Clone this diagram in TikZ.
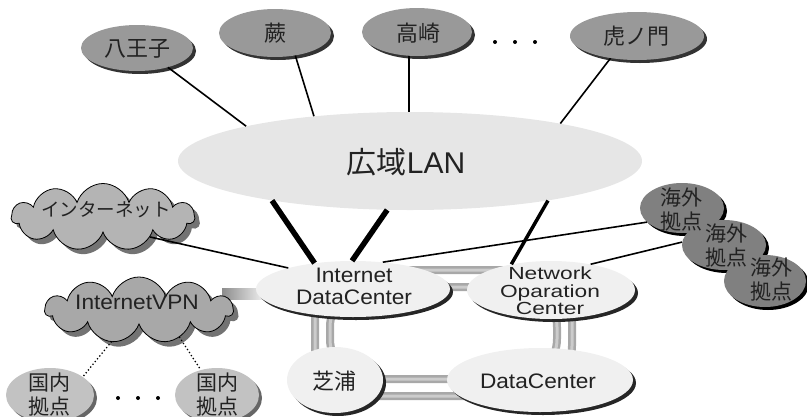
\documentclass[tikz,border=0pt]{standalone}
\usepackage{fontspec}
\setmainfont{Liberation Sans}
\newfontfamily\jp{Noto Sans CJK JP}
\newfontfamily\latw[FakeStretch=1.08]{Liberation Sans}
\newfontfamily\latn[FakeStretch=1.3]{Liberation Sans}
\usetikzlibrary{shapes.geometric,shapes.symbols,shadows,backgrounds}

\definecolor{sitegray}{HTML}{999999}
\definecolor{lanfill}{HTML}{E6E6E6}
\definecolor{hubfill}{HTML}{F0F0F0}
\definecolor{ovsfill}{HTML}{808080}
\definecolor{domfill}{HTML}{C2C2C2}
\definecolor{netfill}{HTML}{B4B4B4}
\definecolor{vpnfill}{HTML}{A8A8A8}
\definecolor{txtcol}{HTML}{222222}

\begin{document}
\begin{tikzpicture}[x=1pt,y=-1pt,
  lbl/.style={text=txtcol, inner sep=0pt, align=center},
  topsite/.style={ellipse, inner sep=0pt, fill=sitegray,
    drop shadow={shadow xshift=3pt, shadow yshift=-3pt, fill=black!80, opacity=1}},
  hub/.style={ellipse, inner sep=0pt, fill=hubfill,
    drop shadow={shadow xshift=3pt, shadow yshift=-3pt, fill=black!85, opacity=1}},
  oversea/.style={ellipse, inner sep=0pt, fill=ovsfill,
    drop shadow={shadow xshift=3pt, shadow yshift=-3pt, fill=black, opacity=1}},
  domestic/.style={ellipse, inner sep=0pt, fill=domfill,
    drop shadow={shadow xshift=3pt, shadow yshift=-3pt, fill=black!60, opacity=1}},
  netcloud/.style={cloud, cloud puffs=11, cloud puff arc=145, cloud ignores aspect,
    inner sep=0pt, draw=black, line width=0.8pt,
    drop shadow={shadow xshift=5pt, shadow yshift=-5pt, fill=black!55, opacity=1}},
  wire/.style={line width=1.6pt},
  trunk/.style={line width=5.5pt},
  midwire/.style={line width=3.5pt},
  dotwire/.style={line width=1.8pt, dash pattern=on 0pt off 3.6pt, line cap=round},
  tube/.style={line width=8pt, draw=gray!68},
  tubelight/.style={line width=3pt, draw=gray!40},
  dot/.style={circle, fill=black, inner sep=0pt, minimum size=4pt}]

\useasboundingbox (0,0) rectangle (807,416);

% wide-area LAN
\node[ellipse, fill=lanfill, inner sep=0pt, minimum width=464pt, minimum height=98pt] (lan) at (410,161) {};
\node[lbl, font=\fontsize{30}{30}\selectfont] at (406,162) {{\jp 広域}LAN};

% branch sites on top
\node[topsite, minimum width=112pt, minimum height=46pt] (hachi) at (137,48) {};
\node[topsite, minimum width=112pt, minimum height=48pt] (warabi) at (275,33) {};
\node[topsite, minimum width=110pt, minimum height=48pt] (takasaki) at (417,32) {};
\node[topsite, minimum width=134pt, minimum height=48pt] (tora) at (637,36) {};
\node[lbl, font=\jp\fontsize{22}{22}\selectfont] at (137,49) {八王子};
\node[lbl, font=\jp\fontsize{22}{22}\selectfont] at (275,33) {蕨};
\node[lbl, font=\jp\fontsize{22}{22}\selectfont] at (418,33) {高崎};
\node[lbl, font=\jp\fontsize{22}{22}\selectfont] at (636,36) {虎ノ門};
\node[dot] (td1) at (495,42) {};
\node[dot] (td2) at (515,42) {};
\node[dot] (td3) at (535,42) {};

% data centers
\node[hub, minimum width=194pt, minimum height=56pt] (idc) at (353,289) {};
\node[hub, minimum width=168pt, minimum height=58pt] (noc) at (551,290) {};
\node[hub, minimum width=96pt, minimum height=66pt] (shiba) at (335,380) {};
\node[hub, minimum width=186pt, minimum height=64pt] (dc) at (540,380) {};
\node[lbl, font=\latw\fontsize{21}{22}\selectfont] at (354,286) {Internet\\DataCenter};
\node[lbl, font=\latn\fontsize{17.5}{17.5}\selectfont] at (550,291) {Network\\Oparation\\Center};
\node[lbl, font=\jp\fontsize{22}{22}\selectfont] at (334,381) {芝浦};
\node[lbl, font=\latw\fontsize{21}{22}\selectfont] at (538,381) {DataCenter};

% clouds
\node[netcloud, fill=netfill, minimum width=183pt, minimum height=67pt] (inet) at (103,217) {};
\node[lbl, font=\jp\fontsize{18.5}{18.5}\selectfont] at (106,210) {インターネット};
\node[netcloud, fill=vpnfill, minimum width=188pt, minimum height=66pt] (vpn) at (139,310) {};
\node[lbl, font=\latw\fontsize{21}{22}\selectfont] at (137,302) {InternetVPN};

% overseas sites
\node[oversea, minimum width=84pt, minimum height=50pt] (kai1) at (682,208) {};
\node[oversea, minimum width=84pt, minimum height=50pt] (kai2) at (724,245) {};
\node[oversea, minimum width=82pt, minimum height=52pt] (kai3) at (765,281) {};
\node[lbl, font=\jp\fontsize{21}{24}\selectfont] at (681,210) {海外\\拠点};
\node[lbl, font=\jp\fontsize{21}{24}\selectfont] at (726,246) {海外\\拠点};
\node[lbl, font=\jp\fontsize{21}{24}\selectfont] at (771,280) {海外\\拠点};

% domestic sites
\node[domestic, minimum width=88pt, minimum height=54pt] (koku1) at (50,395) {};
\node[domestic, minimum width=84pt, minimum height=54pt] (koku2) at (217,395) {};
\node[lbl, font=\jp\fontsize{21}{24}\selectfont] at (49,395) {国内\\拠点};
\node[lbl, font=\jp\fontsize{21}{24}\selectfont] at (217,395) {国内\\拠点};
\node[dot] (bd1) at (118,398) {};
\node[dot] (bd2) at (138,398) {};
\node[dot] (bd3) at (158,398) {};

% redundant ring between the data centers, and the VPN uplink
\begin{scope}[on background layer]
  \draw[tube, rounded corners=50pt] (315,270) rectangle (572,396);
  \draw[tubelight, rounded corners=50pt] (315,270) rectangle (572,396);
  \draw[tube, rounded corners=40pt] (330,287) rectangle (557,379);
  \draw[tubelight, rounded corners=40pt] (330,287) rectangle (557,379);
  \shade[left color=gray!90, right color=gray!12] (222,288) rectangle (264,299);
\end{scope}

% links
\draw[wire] (hachi.328) -- (lan.168);
\draw[wire] (warabi.312) -- (lan.155);
\draw[wire] (takasaki.252) -- (takasaki.252 |- lan.north);
\draw[wire] (tora.220) -- (lan.14);
\draw[trunk] (lan.196) -- (idc.146);
\draw[trunk] (lan.245) -- (idc.92);
\draw[midwire] (lan.344) -- (noc.147);
\draw[wire] (inet.337) -- (idc.162);
\draw[wire] (idc.42) -- (kai1.202);
\draw[wire] (noc.33) -- (kai2.176);
\draw[dotwire] (vpn.229) -- (koku1.29);
\draw[dotwire] (vpn.326) -- (koku2.123);
\end{tikzpicture}
\end{document}
